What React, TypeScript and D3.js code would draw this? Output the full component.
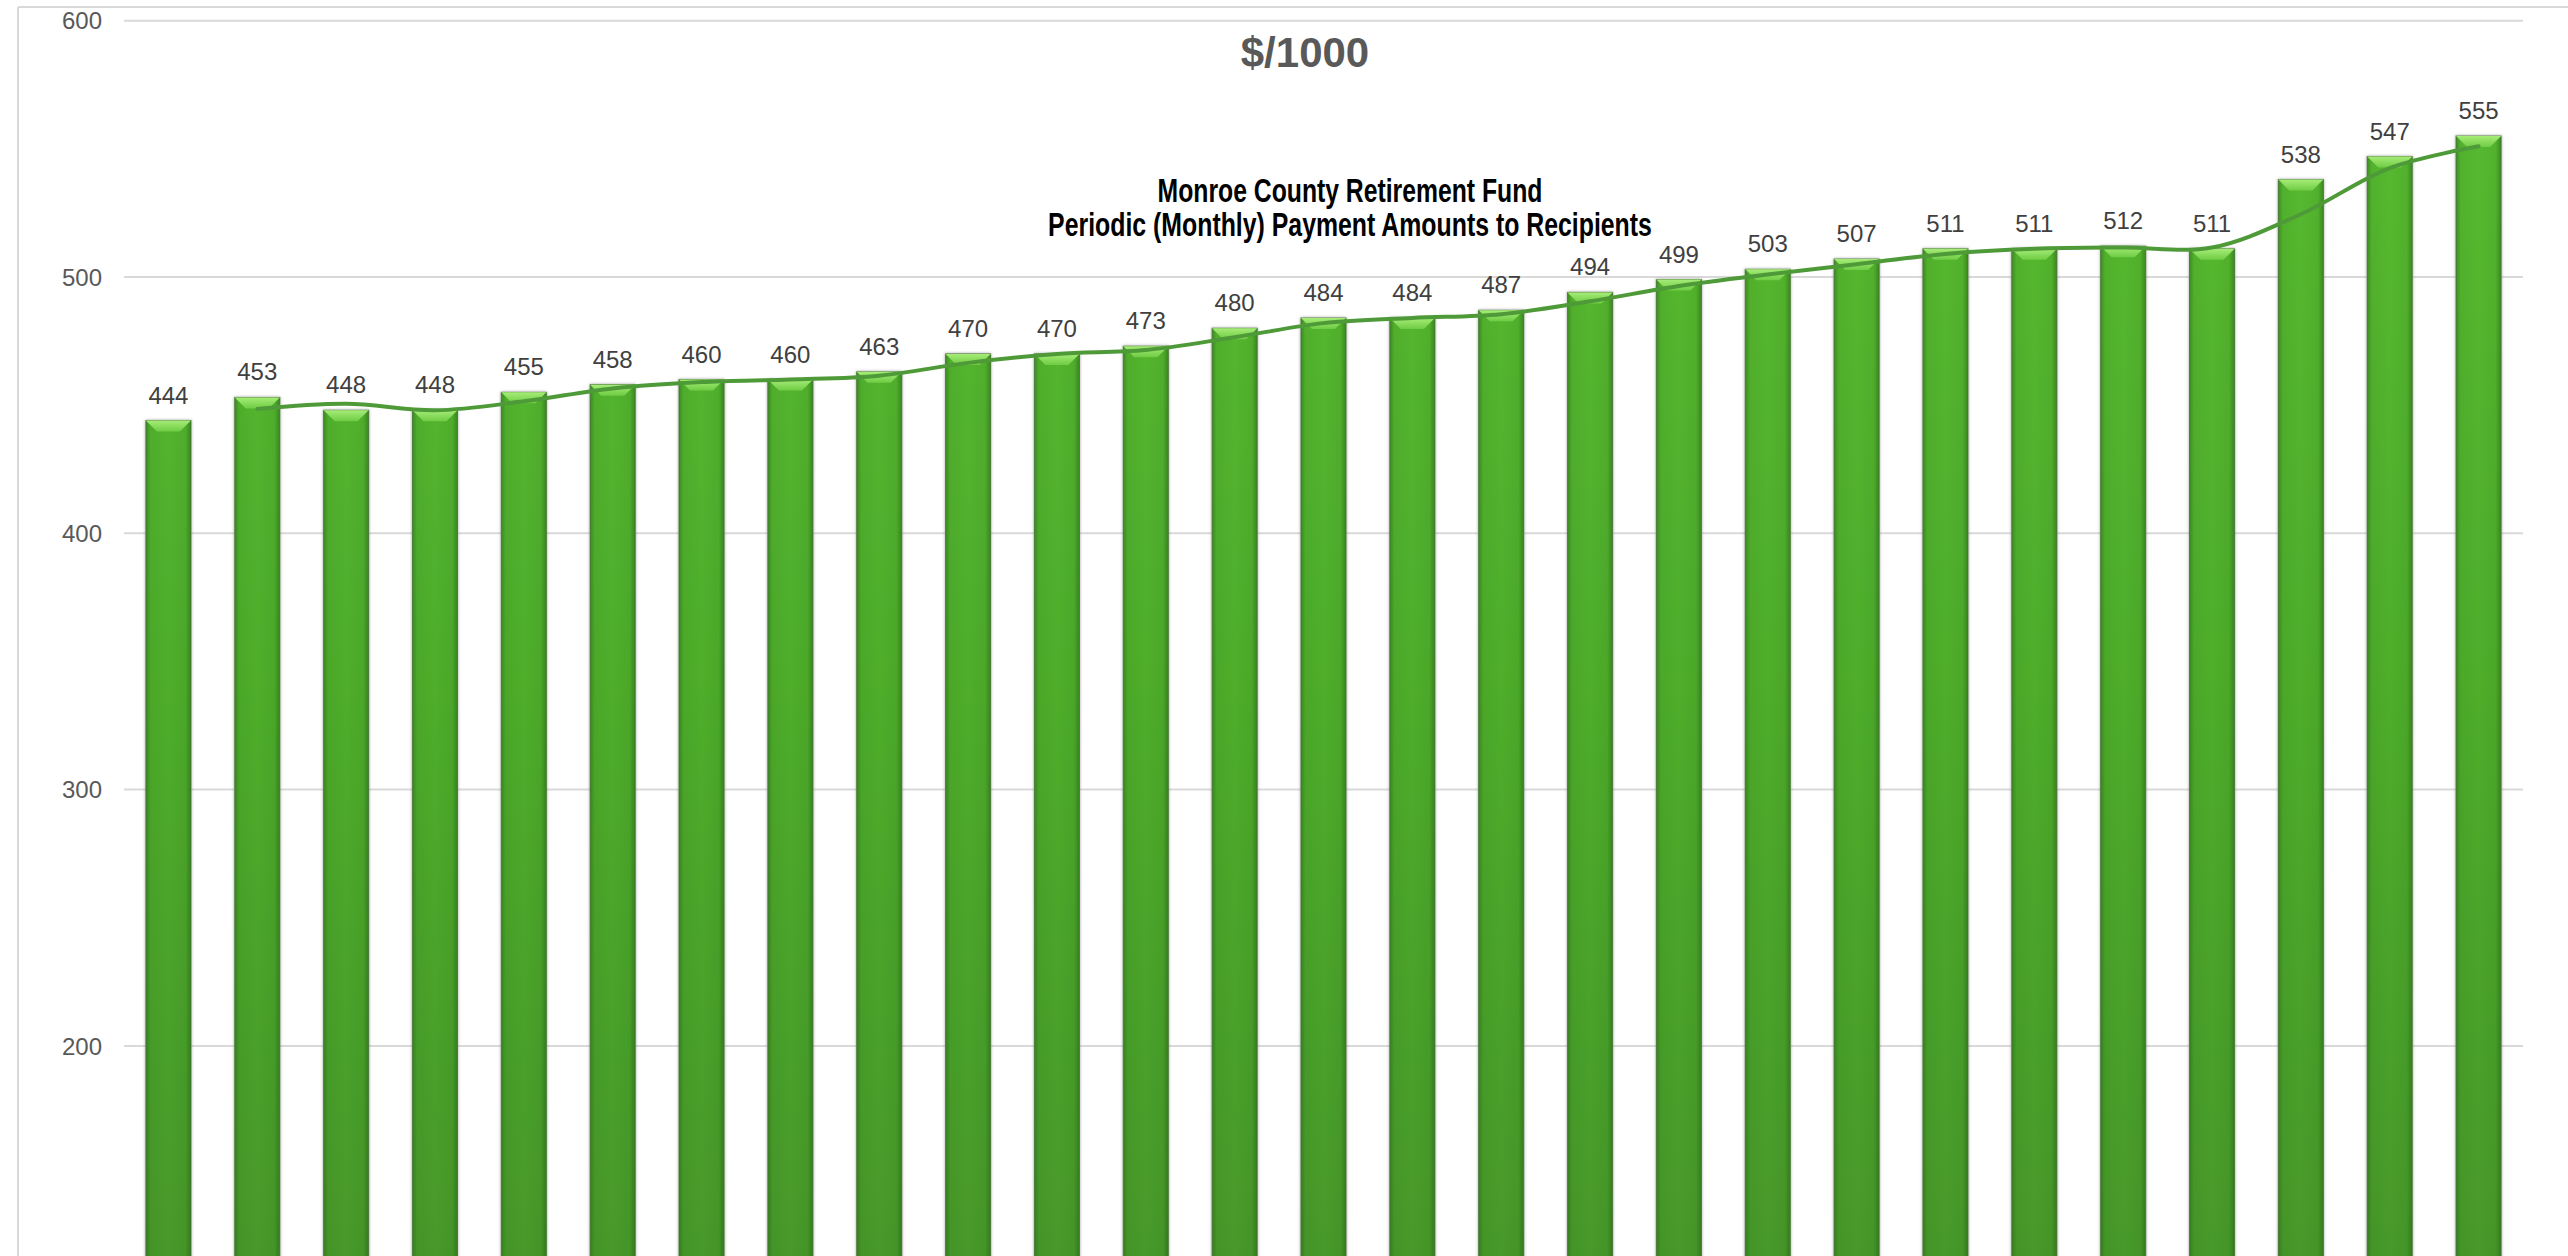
import React, { useLayoutEffect, useRef, useState } from "react";
import * as d3 from "d3";

// ---- data ----
const payments: number[] = [
  444, 453, 448, 448, 455, 458, 460, 460, 463, 470, 470, 473, 480, 484,
  484, 487, 494, 499, 503, 507, 511, 511, 512, 511, 538, 547, 555,
];
const yTicks: number[] = [0, 100, 200, 300, 400, 500, 600];
const unitTitle = "$/1000";
const titleLines: string[] = [
  "Monroe County Retirement Fund",
  "Periodic (Monthly) Payment Amounts to Recipients",
];
const titleWidths: number[] = [385, 604];
const trendPeriod = 2; // 2-period moving average trendline

const W = 2568;
const H = 1256;

export default function App() {
  const titleRefs = useRef<(SVGTextElement | null)[]>([]);
  const [scales, setScales] = useState<number[]>([1, 1]);

  useLayoutEffect(() => {
    const s = titleRefs.current.map((el, i) => {
      if (!el) return 1;
      const len = el.getComputedTextLength();
      return len > 0 ? titleWidths[i] / len : 1;
    });
    setScales(s);
  }, []);

  const x = d3
    .scaleBand<number>()
    .domain(payments.map((_, i) => i))
    .range([124, 2523])
    .paddingInner(0.493)
    .paddingOuter(0.2465);
  const y = d3.scaleLinear().domain([0, 600]).range([1558.5, 20.7]);

  const bw = x.bandwidth();
  const cx = (i: number) => (x(i) as number) + bw / 2;

  // moving-average trendline derived from the bars
  const trend: [number, number][] = [];
  for (let i = trendPeriod - 1; i < payments.length; i++) {
    const m = d3.mean(payments.slice(i - trendPeriod + 1, i + 1)) as number;
    trend.push([cx(i), y(m)]);
  }
  const line = d3.line().curve(d3.curveCatmullRom.alpha(0.5));

  const bevel = 11;
  const font = "'Liberation Sans', Arial, Helvetica, sans-serif";
  const visibleTicks = yTicks.filter((t) => y(t) < H - 20);

  return (
    <svg
      width={W}
      height={H}
      viewBox={`0 0 ${W} ${H}`}
      style={{ position: "absolute", left: 0, top: 0, display: "block", background: "#fff" }}
    >
      <defs>
        <linearGradient id="body" gradientUnits="userSpaceOnUse" x1="0" y1="100" x2="0" y2="1256">
          <stop offset="0" stopColor="#57ba30" />
          <stop offset="0.5" stopColor="#4fae2c" />
          <stop offset="1" stopColor="#47992a" />
        </linearGradient>
        <linearGradient id="sides" x1="0" y1="0" x2="1" y2="0">
          <stop offset="0" stopColor="#1f5a10" stopOpacity="0.45" />
          <stop offset="0.1" stopColor="#1f5a10" stopOpacity="0.08" />
          <stop offset="0.5" stopColor="#1f5a10" stopOpacity="0" />
          <stop offset="0.88" stopColor="#1f5a10" stopOpacity="0.08" />
          <stop offset="1" stopColor="#1f5a10" stopOpacity="0.5" />
        </linearGradient>
        <linearGradient id="topBevel" x1="0" y1="0" x2="0" y2="1">
          <stop offset="0" stopColor="#a6ec78" />
          <stop offset="1" stopColor="#6fcc43" />
        </linearGradient>
        <filter id="halo" x="-20%" y="-5%" width="140%" height="110%">
          <feDropShadow dx="0" dy="0" stdDeviation="1.6" floodColor="#7a7a7a" floodOpacity="0.7" />
        </filter>
      </defs>

      {/* chart frame */}
      <line x1={18} y1={7} x2={W} y2={7} stroke="#d9d9d9" strokeWidth={2} />
      <line x1={18} y1={7} x2={18} y2={H} stroke="#d9d9d9" strokeWidth={2} />

      {/* gridlines + tick labels */}
      {yTicks.map((t) => (
        <line key={"g" + t} x1={124} x2={2523} y1={y(t)} y2={y(t)} stroke="#d9d9d9" strokeWidth={2} />
      ))}
      {visibleTicks.map((t) => (
        <text
          key={"t" + t}
          x={102}
          y={y(t)}
          dy="0.36em"
          textAnchor="end"
          fontFamily={font}
          fontSize={24}
          fill="#595959"
        >
          {t}
        </text>
      ))}

      {/* bars */}
      {payments.map((v, i) => {
        const x0 = x(i) as number;
        const top = y(v);
        const h = y(0) - top;
        return (
          <g key={i}>
            <rect
              x={x0}
              y={top}
              width={bw}
              height={h}
              fill="url(#body)"
              stroke="#5f8a4c"
              strokeWidth={1}
              filter="url(#halo)"
            />
            <rect x={x0} y={top} width={bw} height={h} fill="url(#sides)" />
            <polygon
              points={`${x0},${top} ${x0 + bw},${top} ${x0 + bw - bevel},${top + bevel} ${x0 + bevel},${top + bevel}`}
              fill="url(#topBevel)"
            />
            <text
              x={cx(i)}
              y={top - 17}
              textAnchor="middle"
              fontFamily={font}
              fontSize={24}
              fill="#404040"
            >
              {v}
            </text>
          </g>
        );
      })}

      {/* moving-average trendline */}
      <path
        d={line(trend) || ""}
        fill="none"
        stroke="#4f9a38"
        strokeWidth={4}
        strokeLinecap="round"
        strokeLinejoin="round"
      />

      {/* titles */}
      <text
        x={1305}
        y={66.5}
        textAnchor="middle"
        fontFamily={font}
        fontWeight="bold"
        fontSize={42}
        fill="#595959"
      >
        {unitTitle}
      </text>
      {titleLines.map((t, i) => (
        <g key={t} transform={`translate(1350, ${201.5 + i * 34.5}) scale(${scales[i]}, 1)`}>
          <text
            ref={(el) => {
              titleRefs.current[i] = el;
            }}
            x={0}
            y={0}
            textAnchor="middle"
            fontFamily="'Liberation Sans Narrow', 'Arial Narrow', 'Liberation Sans', Arial, sans-serif"
            fontWeight="bold"
            fontSize={33}
            fill="#000"
          >
            {t}
          </text>
        </g>
      ))}
    </svg>
  );
}
